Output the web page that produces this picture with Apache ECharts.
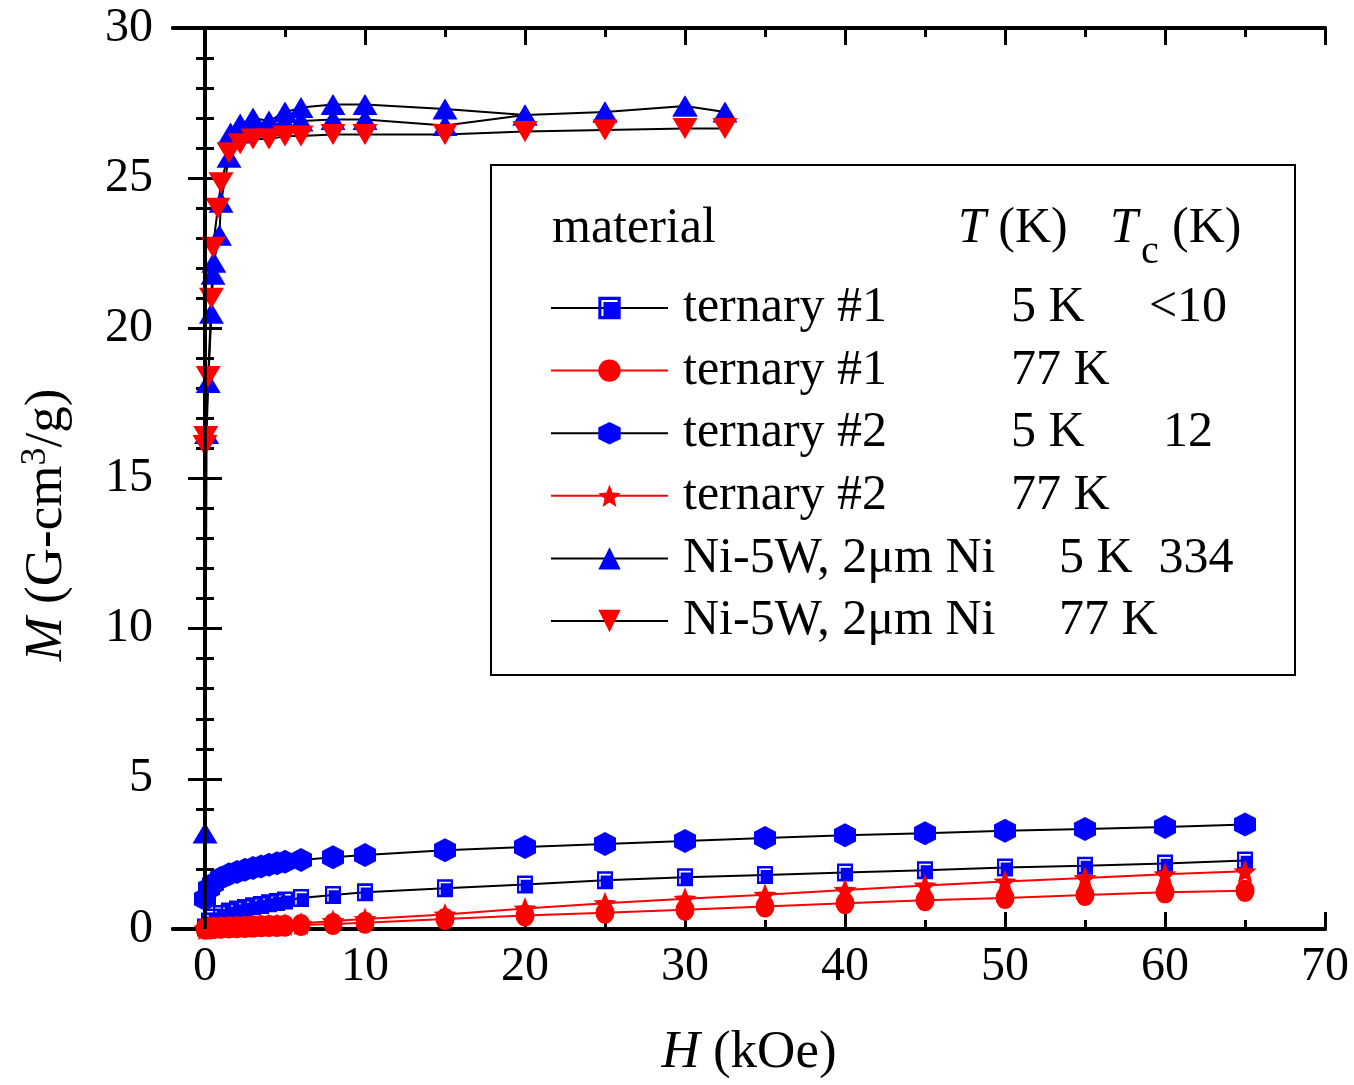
<!DOCTYPE html>
<html><head><meta charset="utf-8">
<script src="https://cdn.jsdelivr.net/npm/echarts@6/dist/echarts.min.js"></script>
<style>html,body{margin:0;padding:0;background:#fff}#c{width:1354px;height:1085px}</style>
</head><body><div id="c"></div>
<script>
const FONT = 'Liberation Serif';

// ---------- data ----------
const xMajorTicks = [0, 10, 20, 30, 40, 50, 60, 70];
const xMinorTicks = [5, 15, 25, 35, 45, 55, 65];

const H_ternary = [0, 0.25, 0.5, 1, 1.5, 2, 2.5, 3, 3.5, 4, 4.5, 5, 6, 8, 10, 15, 20, 25, 30, 35, 40, 45, 50, 55, 60, 65];
const M_t1_5K  = [0.05, 0.25, 0.38, 0.5, 0.58, 0.65, 0.7, 0.76, 0.8, 0.86, 0.9, 0.95, 1.03, 1.13, 1.22, 1.36, 1.48, 1.62, 1.72, 1.8, 1.88, 1.96, 2.05, 2.11, 2.18, 2.28];
const M_t1_77K = [0.01, 0.02, 0.03, 0.04, 0.05, 0.06, 0.07, 0.08, 0.09, 0.1, 0.1, 0.11, 0.13, 0.17, 0.21, 0.33, 0.45, 0.54, 0.64, 0.75, 0.86, 0.96, 1.03, 1.13, 1.22, 1.27];
const M_t2_5K  = [1.0, 1.35, 1.5, 1.7, 1.82, 1.9, 1.97, 2.03, 2.08, 2.14, 2.19, 2.24, 2.3, 2.39, 2.46, 2.62, 2.73, 2.83, 2.93, 3.03, 3.12, 3.19, 3.27, 3.33, 3.4, 3.48];
const M_t2_77K = [0.02, 0.04, 0.05, 0.07, 0.08, 0.09, 0.1, 0.11, 0.12, 0.13, 0.14, 0.15, 0.18, 0.27, 0.33, 0.48, 0.68, 0.86, 1.01, 1.14, 1.3, 1.45, 1.58, 1.7, 1.82, 1.92];

const H_ni_5K = [0, 0.1, 0.2, 0.4, 0.5, 0.55, 0.9, 1.0, 1.5, 1.6, 2.2, 3, 4, 5, 6, 8, 10, 15, 20, 25, 30, 32.5, 30, 25, 20, 15, 10, 8, 6, 5, 4, 3, 2];
const M_ni_5K = [3.2, 16.5, 18.2, 20.5, 21.8, 22.2, 23.1, 24.2, 25.7, 26.5, 26.8, 27.0, 26.9, 27.2, 27.35, 27.45, 27.45, 27.3, 27.1, 27.2, 27.4, 27.2, 27.4, 27.2, 27.1, 26.75, 26.95, 26.95, 26.9, 26.85, 26.75, 26.7, 26.5];

const H_ni_77K = [0, 0.05, 0.2, 0.4, 0.5, 0.8, 1.0, 1.5, 2.2, 3, 4, 5, 6, 8, 10, 15, 20, 25, 30, 32.5];
const M_ni_77K = [16.1, 16.4, 18.4, 21.0, 22.7, 24.0, 24.85, 25.85, 26.15, 26.3, 26.3, 26.4, 26.4, 26.45, 26.45, 26.45, 26.55, 26.6, 26.65, 26.65];

const seriesIds    = ['t1_5', 't1_77', 't2_5', 't2_77', 'ni_5', 'ni_77'];
const seriesLabels = ['ternary #1', 'ternary #1', 'ternary #2', 'ternary #2', 'Ni-5W, 2\u03bcm Ni', 'Ni-5W, 2\u03bcm Ni'];
const seriesT      = ['5 K', '77 K', '5 K', '77 K', '5 K', '77 K'];
const seriesTc     = ['<10', '', '12', '', '334', ''];

// ---------- styles ----------
function starPath() {
  let s = '';
  for (let i = 0; i < 10; i++) {
    const r = i % 2 === 0 ? 50 : 22;
    const a = -Math.PI / 2 + i * Math.PI / 5;
    s += (i ? 'L' : 'M') + (50 + r * Math.cos(a)).toFixed(2) + ',' + (50 + r * Math.sin(a)).toFixed(2) + ' ';
  }
  return 'path://' + s + 'Z';
}
const SYM_SQUARE = 'path://M0,0 L10,0 L10,10 L0,10 Z M1.4,1.4 L1.4,8.6 L2.3,8.6 L2.3,2.3 L8.6,2.3 L8.6,1.4 Z';
const SYM_HEX = 'path://M5,0 L10,2.9 L10,9.1 L5,12 L0,9.1 L0,2.9 Z';
const SYM_STAR = starPath();
const SYM_UP = 'path://M5,0 L10,9 L0,9 Z';
const SYM_DOWN = 'path://M0,0 L10,0 L5,9 Z';
const BLUE = '#0000ff', RED = '#ff0000', BLACK = '#000000';

function pairs(H, M) { return H.map((h, i) => [h, M[i]]); }

function mk(idx, H, M, symbol, size, fill, lineColor) {
  return {
    type: 'line', name: seriesIds[idx], data: pairs(H, M),
    symbol: symbol, symbolSize: size,
    itemStyle: { color: fill, opacity: 1 },
    lineStyle: { color: lineColor, width: 2 },
    emphasis: { disabled: true }, silent: true, animation: false, clip: false
  };
}

const series = [
  mk(0, H_ternary, M_t1_5K, SYM_SQUARE, [16, 18], BLUE, BLACK),
  mk(1, H_ternary, M_t1_77K, 'circle', [19, 22], RED, RED),
  mk(2, H_ternary, M_t2_5K, SYM_HEX, [22, 24], BLUE, BLACK),
  mk(3, H_ternary, M_t2_77K, SYM_STAR, [23, 23], RED, RED),
  mk(4, H_ni_5K, M_ni_5K, SYM_UP, [25, 21], BLUE, BLACK),
  mk(5, H_ni_77K, M_ni_77K, SYM_DOWN, [25, 21], RED, BLACK)
];
series[5].markLine = {
  silent: true, symbol: ['none', 'none'], label: { show: false }, animation: false,
  lineStyle: { color: BLACK, width: 3.5, type: 'solid' },
  emphasis: { disabled: true },
  data: [{ xAxis: 0 }]
};

const axisLineStyle = { show: true, lineStyle: { color: BLACK, width: 4 } };
function xAx(pos, ticks, len, labels) {
  return {
    type: 'value', gridIndex: 0, position: pos, min: -2, max: 70,
    axisLine: axisLineStyle,
    axisTick: { show: true, inside: true, length: len, customValues: ticks, lineStyle: { color: BLACK, width: 3 } },
    axisLabel: labels ? { show: true, customValues: ticks, fontFamily: FONT, fontSize: 48, color: BLACK, margin: 14 } : { show: false },
    splitLine: { show: false }
  };
}
const xAxes = [xAx('bottom', xMajorTicks, 17, true), xAx('bottom', xMinorTicks, 9, false), xAx('top', xMajorTicks, 17, false), xAx('top', xMinorTicks, 9, false)];
xAxes[0].name = '{i|H} (kOe)';
xAxes[0].nameLocation = 'middle';
xAxes[0].nameGap = 98;
xAxes[0].nameTextStyle = { fontFamily: FONT, fontSize: 53, color: BLACK, rich: { i: { fontFamily: FONT, fontSize: 53, fontStyle: 'italic', color: BLACK } } };

function yAx(pos, labels) {
  return {
    type: 'value', position: pos, min: 0, max: 30, interval: 5,
    axisLine: axisLineStyle,
    axisTick: { show: true, inside: true, length: 17, lineStyle: { color: BLACK, width: 3 } },
    minorTick: { show: true, splitNumber: 5, length: 9, lineStyle: { color: BLACK, width: 3 } },
    axisLabel: labels ? { show: true, fontFamily: FONT, fontSize: 48, color: BLACK, margin: 20 } : { show: false },
    splitLine: { show: false }, minorSplitLine: { show: false }
  };
}

// legend text with tab-stop like columns
const TXT = 50;
const richBase = { fontFamily: FONT, fontSize: TXT, color: BLACK, lineHeight: 50 };
const legendRich = {
  s: Object.assign({ width: 10 }, richBase),
  a: Object.assign({ width: 328 }, richBase),
  a2: Object.assign({ width: 376 }, richBase),
  b: Object.assign({ width: 137 }, richBase),
  b2: Object.assign({ width: 97 }, richBase),
  c: Object.assign({ width: 80, align: 'center' }, richBase)
};

const option = {
  backgroundColor: '#fff',
  animation: false,
  grid: { left: 173, right: 29, top: 28, bottom: 154, containLabel: false },
  xAxis: xAxes,
  yAxis: [yAx('left', true), yAx('right', false)],
  legend: {
    show: true, orient: 'vertical', left: 550, top: 283, padding: 0,
    itemWidth: 117, itemHeight: 28, itemGap: 12.6, selectedMode: false,
    data: seriesIds,
    formatter: function (name) {
      const i = seriesIds.indexOf(name);
      const long = seriesLabels[i].length > 11;
      return '{s| }{' + (long ? 'a2' : 'a') + '|' + seriesLabels[i] + '}{' + (long ? 'b2' : 'b') + '|' + seriesT[i] + '}' + (seriesTc[i] ? '{c|' + seriesTc[i] + '}' : '');
    },
    textStyle: Object.assign({ rich: legendRich }, richBase)
  },
  graphic: [
    { type: 'rect', silent: true, shape: { x: 491, y: 165, width: 804, height: 510 }, style: { fill: 'none', stroke: BLACK, lineWidth: 2 } },
    { type: 'text', silent: true, x: 552, y: 229, style: { text: 'material', fontFamily: FONT, fontSize: TXT, fill: BLACK, verticalAlign: 'middle' } },
    { type: 'text', silent: true, x: 958, y: 229, style: { text: '{i|T} (K)', fontFamily: FONT, fontSize: TXT, fill: BLACK, verticalAlign: 'middle',
      rich: { i: { fontFamily: FONT, fontSize: TXT, fontStyle: 'italic', fill: BLACK } } } },
    { type: 'text', silent: true, x: 1110, y: 229, style: { text: 'T', fontFamily: FONT, fontSize: TXT, fontStyle: 'italic', fill: BLACK, verticalAlign: 'middle' } },
    { type: 'text', silent: true, x: 1141, y: 252, style: { text: 'c', fontFamily: FONT, fontSize: 40, fill: BLACK, verticalAlign: 'middle' } },
    { type: 'text', silent: true, x: 1172, y: 229, style: { text: '(K)', fontFamily: FONT, fontSize: TXT, fill: BLACK, verticalAlign: 'middle' } },
    { type: 'text', silent: true, x: 47, y: 525, rotation: Math.PI / 2,
      style: { text: '{i|M} (G-cm{sup|3}/g)', fontFamily: FONT, fontSize: 53, fill: BLACK, align: 'center', verticalAlign: 'middle',
        rich: { i: { fontFamily: FONT, fontSize: 53, fontStyle: 'italic', fill: BLACK, lineHeight: 58 },
                sup: { fontFamily: FONT, fontSize: 36, fill: BLACK, verticalAlign: 'top', lineHeight: 58 } } } }
  ],
  series: series
};

const chart = echarts.init(document.getElementById('c'), null, { renderer: 'canvas' });
chart.setOption(option);
</script>
</body></html>
